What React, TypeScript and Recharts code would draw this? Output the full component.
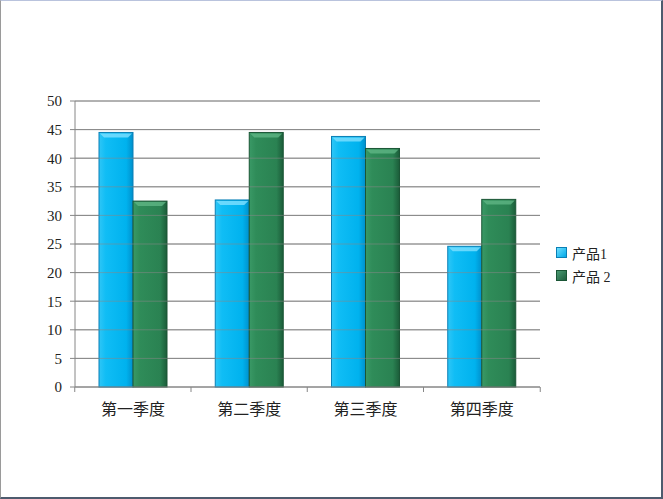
import React from 'react';
import { BarChart, Bar, XAxis, YAxis, CartesianGrid, ReferenceLine } from 'recharts';

const categories = ['第一季度', '第二季度', '第三季度', '第四季度'];
const product1 = [44.5, 32.7, 43.8, 24.6];
const product2 = [32.5, 44.5, 41.7, 32.8];
const yTicks = [0, 5, 10, 15, 20, 25, 30, 35, 40, 45, 50];
const seriesNames = ['产品1', '产品 2'];

const data = categories.map((name, i) => ({ name, p1: product1[i], p2: product2[i] }));

const FONT = '"Liberation Serif", "Noto Sans CJK SC", serif';
const BAND = 116.75;

// bar with a little bevel on top, like the office 3d style
function BevelBar(props: any) {
  const { x, y, width, height, fillId, edge, light } = props;
  if (!height || height <= 0) return null;
  const b = 5;
  return (
    <g>
      <rect x={x} y={y} width={width} height={height} fill={`url(#${fillId})`} stroke={edge} strokeWidth={1} />
      <polygon
        points={`${x + 1},${y + 1} ${x + width - 1},${y + 1} ${x + width - b},${y + b} ${x + b},${y + b}`}
        fill={light}
        opacity={0.8}
      />
    </g>
  );
}

function XTick(props: any) {
  const { x, y, payload, index } = props;
  return (
    <g>
      <line x1={x - BAND / 2} y1={y - 8} x2={x - BAND / 2} y2={y - 3} stroke="#868686" />
      {index === categories.length - 1 && (
        <line x1={x + BAND / 2} y1={y - 8} x2={x + BAND / 2} y2={y - 3} stroke="#868686" />
      )}
      <text x={x} y={y + 20} textAnchor="middle" fontSize={16} fill="#222" fontFamily={FONT}>
        {payload.value}
      </text>
    </g>
  );
}

export default function App() {
  return (
    <div
      style={{
        position: 'absolute',
        left: 0,
        top: 0,
        width: 663,
        height: 499,
        boxSizing: 'border-box',
        background: '#fff',
        borderTop: '1px solid #b9c3dd',
        borderLeft: '1px solid #9a9a9a',
        borderRight: '2px solid #4d5b6e',
        borderBottom: '2px solid #4d5b6e',
      }}
    >
      <BarChart
        width={660}
        height={496}
        data={data}
        margin={{ top: 100, right: 121, bottom: 80, left: 0 }}
        barGap={0}
        barSize={34}
      >
        <defs>
          <linearGradient id="g1" x1="0" y1="0" x2="1" y2="0">
            <stop offset="0%" stopColor="#2fc6f6" />
            <stop offset="20%" stopColor="#10bdf5" />
            <stop offset="80%" stopColor="#00b2ee" />
            <stop offset="100%" stopColor="#0090cc" />
          </linearGradient>
          <linearGradient id="g2" x1="0" y1="0" x2="1" y2="0">
            <stop offset="0%" stopColor="#3a9966" />
            <stop offset="20%" stopColor="#2f8c59" />
            <stop offset="80%" stopColor="#2a8252" />
            <stop offset="100%" stopColor="#1b5c39" />
          </linearGradient>
        </defs>
        <CartesianGrid vertical={false} stroke="#868686" />
        <XAxis
          dataKey="name"
          height={30}
          axisLine={{ stroke: '#868686' }}
          tickLine={false}
          tick={<XTick />}
          interval={0}
        />
        <YAxis
          width={74}
          domain={[0, 50]}
          ticks={yTicks}
          interval={0}
          axisLine={{ stroke: '#868686' }}
          tickLine={{ stroke: '#868686' }}
          tickSize={5}
          tickMargin={8}
          tick={{ fontSize: 15, fill: '#222', fontFamily: FONT }}
        />
        <Bar
          dataKey="p1"
          name={seriesNames[0]}
          isAnimationActive={false}
          shape={(p: any) => <BevelBar {...p} fillId="g1" edge="#0a7fb5" light="#7fe0ff" />}
        />
        <Bar
          dataKey="p2"
          name={seriesNames[1]}
          isAnimationActive={false}
          shape={(p: any) => <BevelBar {...p} fillId="g2" edge="#1a5535" light="#5fb585" />}
        />
        {yTicks.slice(1).map((t) => (
          <ReferenceLine key={t} y={t} stroke="#868686" strokeOpacity={0.55} />
        ))}
      </BarChart>
      <div style={{ position: 'absolute', left: 555, top: 240, fontFamily: FONT, fontSize: 14, color: '#222' }}>
        {seriesNames.map((n, i) => (
          <div key={n} style={{ display: 'flex', alignItems: 'center', height: 23 }}>
            <span
              style={{
                width: 9,
                height: 9,
                marginRight: 5,
                background: i === 0 ? 'linear-gradient(135deg,#6fe0ff,#00a8e8)' : 'linear-gradient(135deg,#4a9a72,#1f5e3e)',
                border: i === 0 ? '1px solid #0a7fb5' : '1px solid #1a5535',
              }}
            />
            <span>{n}</span>
          </div>
        ))}
      </div>
    </div>
  );
}
